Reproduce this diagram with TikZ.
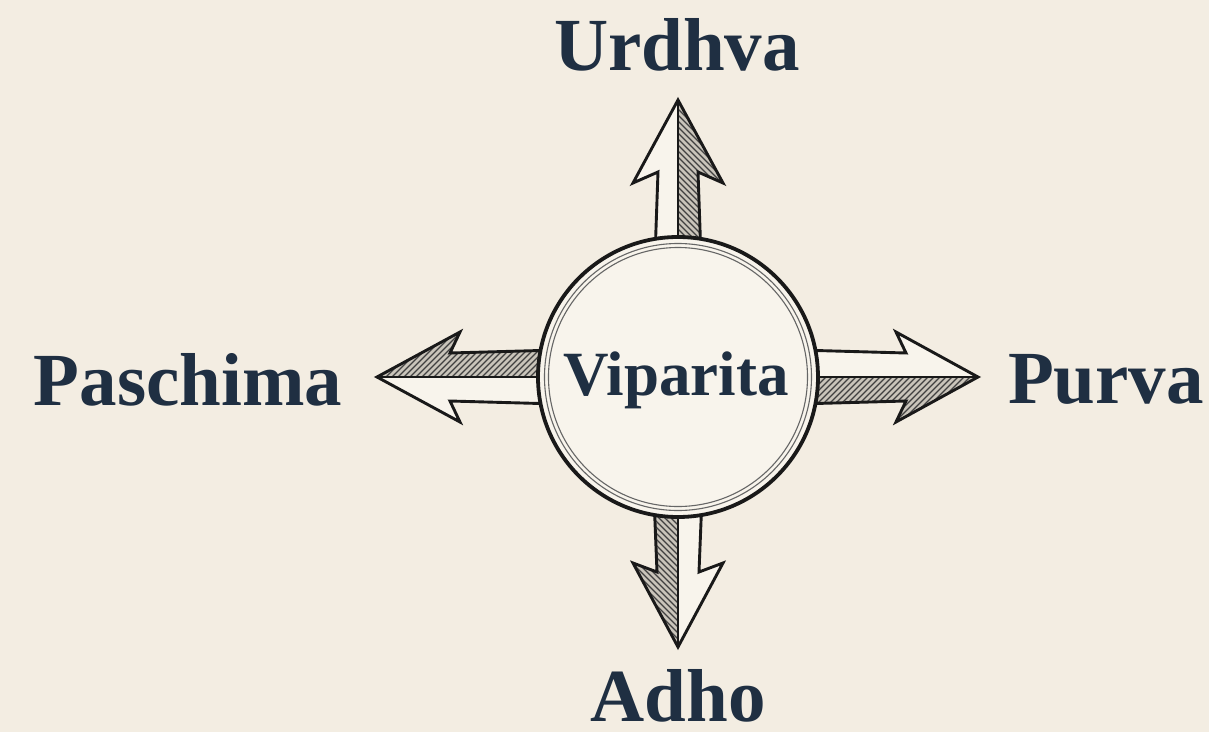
\documentclass[tikz,border=0pt]{standalone}
\usepackage{fontspec}
\setmainfont{Liberation Serif}

\definecolor{paper}{HTML}{F3EDE2}
\definecolor{inkblue}{HTML}{1F2F42}
\definecolor{halfgray}{HTML}{C9C4BA}
\definecolor{pale}{HTML}{F8F4EC}

\tikzset{
  dirlabel/.style={text=inkblue, font=\bfseries\fontsize{75}{80}\selectfont, inner sep=0pt, anchor=base},
  hublabel/.style={text=inkblue, font=\bfseries\fontsize{63}{66}\selectfont, inner sep=0pt, anchor=base},
  outline/.style={draw=black!90, line width=2.9pt, line join=miter},
  hatchline/.style={draw=black!75, line width=1.3pt},
}

% arrow pointing up, turned by #1; tip #2, barb #3, notch #4, shaft half width #5
\newcommand{\wayarrow}[5]{
  \begin{scope}[rotate=#1]
    \fill[pale] (-#5-3,120) -- (-#5,#4) -- (-45,#3) -- (0,#2) -- (45,#3) -- (#5,#4) -- (#5+3,120) -- cycle;
    \begin{scope}
      \clip (0,120) -- (0,#2) -- (45,#3) -- (#5,#4) -- (#5+3,120) -- cycle;
      \fill[halfgray] (0,120) rectangle (50,#2);
      \foreach \h in {100,106,...,390}
        \draw[hatchline] (-5,\h+5) -- (60,\h-60);
    \end{scope}
    \draw[outline] (-#5-3,120) -- (-#5,#4) -- (-45,#3) -- (0,#2) -- (45,#3) -- (#5,#4) -- (#5+3,120);
    \draw[black!90, line width=1.8pt] (0,120) -- (0,#2);
  \end{scope}
}

\begin{document}
\begin{tikzpicture}[x=1pt,y=1pt]
  \useasboundingbox[fill=paper] (-678,-355) rectangle (531,377);

  % the four arrows
  \wayarrow{0}{277}{194}{205}{20}
  \wayarrow{-90}{300}{218}{228}{24}
  \wayarrow{180}{270}{186}{195}{21}
  \wayarrow{90}{301}{218}{228}{24}

  % hub
  \node[circle, minimum size=280pt, inner sep=0pt, fill=pale, draw=black!90, line width=3.8pt] (hub) at (0,0) {};
  \draw[black!60, line width=1.1pt] (hub.center) circle (133.5);
  \draw[black!60, line width=1.1pt] (hub.center) circle (129.5);
  \node[hublabel] (vip) at (-2,-18) {Viparita};

  % labels
  \node[dirlabel] (urdhva) at (-1,307) {Urdhva};
  \node[dirlabel, text depth=0pt] (adho) at (0,-344) {Adho};
  \node[dirlabel] (paschima) at (-490,-28) {Paschima};
  \node[dirlabel] (purva) at (428,-26) {Purva};
\end{tikzpicture}
\end{document}
